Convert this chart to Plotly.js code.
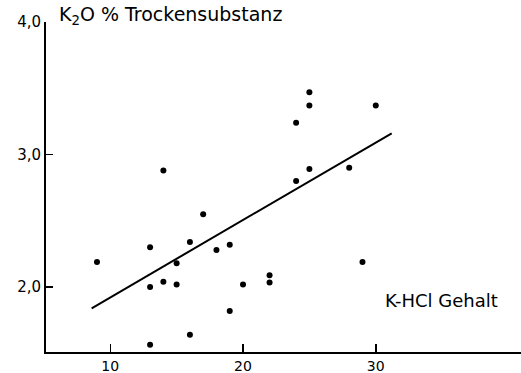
<!DOCTYPE html>
<html><head><meta charset="utf-8">
<script src="https://cdn.plot.ly/plotly-3.0.1.min.js"></script>
<style>html,body{margin:0;padding:0;background:#fff}#chart{width:521px;height:373px}</style>
</head><body><div id="chart"></div>
<script>
// K-HCl content (x) and K2O % dry matter (y)
const khcl = [9, 13, 16, 18, 19, 15, 13, 14, 15, 20, 22, 22, 29, 19, 16, 13, 14, 17, 25, 25, 30, 24, 25, 24, 28];
const k2o  = [2.19, 2.30, 2.34, 2.28, 2.32, 2.18, 2.00, 2.04, 2.02, 2.02, 2.09, 2.035, 2.19, 1.82, 1.64, 1.565, 2.88, 2.55, 3.47, 3.37, 3.37, 3.24, 2.89, 2.80, 2.90];
// regression line as drawn
const fitX = [8.6, 31.2];
const fitY = [1.84, 3.16];
const xTickVals = [10, 20, 30];
const xTickText = ['10', '20', '30'];
const yTickVals = [2, 3, 4];
const yTickText = ['2,0', '3,0', '4,0'];

const font = {family: 'DejaVu Sans, sans-serif', color: '#000'};

Plotly.newPlot('chart', [
  {x: fitX, y: fitY, mode: 'lines', line: {color: '#000', width: 2}, hoverinfo: 'skip'},
  {x: khcl, y: k2o, mode: 'markers', marker: {color: '#000', size: 6}}
], {
  width: 521, height: 373,
  margin: {l: 46, r: 0, t: 22, b: 21},
  paper_bgcolor: '#fff', plot_bgcolor: '#fff',
  showlegend: false,
  font: Object.assign({size: 14}, font),
  xaxis: {
    range: [5.16, 40.94], showgrid: false, zeroline: false,
    showline: true, linecolor: '#000', linewidth: 2,
    ticks: 'inside', ticklen: 8, tickwidth: 1.5, tickcolor: '#000',
    tickvals: xTickVals, ticktext: xTickText,
    tickfont: Object.assign({size: 14}, font)
  },
  yaxis: {
    range: [1.51, 4.0], showgrid: false, zeroline: false,
    showline: true, linecolor: '#000', linewidth: 2,
    ticks: 'inside', ticklen: 7, tickwidth: 1.5, tickcolor: '#000',
    tickvals: yTickVals, ticktext: yTickText,
    tickfont: Object.assign({size: 15}, font)
  },
  annotations: [
    {text: 'K<sub>2</sub>O % Trockensubstanz', xref: 'paper', yref: 'paper',
     x: 0.023, y: 1.021, xanchor: 'left', yanchor: 'middle', showarrow: false,
     font: Object.assign({size: 19}, font)},
    {text: 'K-HCl Gehalt', xref: 'paper', yref: 'paper',
     x: 0.709, y: 0.157, xanchor: 'left', yanchor: 'middle', showarrow: false,
     font: Object.assign({size: 18}, font)}
  ]
}, {displayModeBar: false, staticPlot: true});
</script></body></html>
